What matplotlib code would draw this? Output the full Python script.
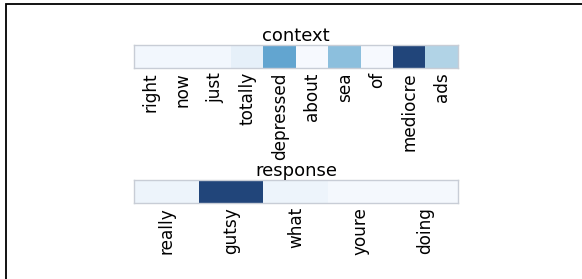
import matplotlib

matplotlib.use("Agg")

import matplotlib.pyplot as plt
import numpy as np
from matplotlib.patches import Rectangle

context_words = ["right", "now", "just", "totally", "depressed", "about",
                 "sea", "of", "mediocre", "ads"]
context_weights = [0.03, 0.03, 0.03, 0.09, 0.58, 0.01, 0.45, 0.01, 1.0, 0.34]

response_words = ["really", "gutsy", "what", "youre", "doing"]
response_weights = [0.06, 1.0, 0.06, 0.02, 0.02]

W, H = 582, 279
fig = plt.figure(figsize=(W / 100, H / 100), dpi=100)
fig.patch.set_facecolor("white")

# frame line around the figure (runs off right and bottom edges)
fig.patches.append(Rectangle((5.5 / W, -0.1), 1.2, 1 - 4.5 / H + 0.1,
                             transform=fig.transFigure, fill=False,
                             edgecolor="black", linewidth=1.3))


def heat(rect, words, weights, title):
    ax = fig.add_axes(rect)
    ax.imshow(np.array([weights]), cmap="Blues", vmin=0, vmax=1, alpha=0.9,
              aspect="auto", interpolation="nearest")
    ax.set_xticks(range(len(words)))
    ax.set_xticklabels(words, rotation=90, fontsize=12.2)
    ax.set_yticks([])
    ax.tick_params(axis="x", length=0, pad=3)
    for s in ax.spines.values():
        s.set_color("#c8cdd6")
        s.set_linewidth(1)
    ax.set_title(title, fontsize=13, pad=-3)
    return ax


heat([134 / W, 1 - 68 / H, 324 / W, 23 / H], context_words, context_weights,
     "context")
heat([134 / W, 1 - 203 / H, 324 / W, 23 / H], response_words,
     response_weights, "response")

fig.savefig("out.png", dpi=100, facecolor="white")
